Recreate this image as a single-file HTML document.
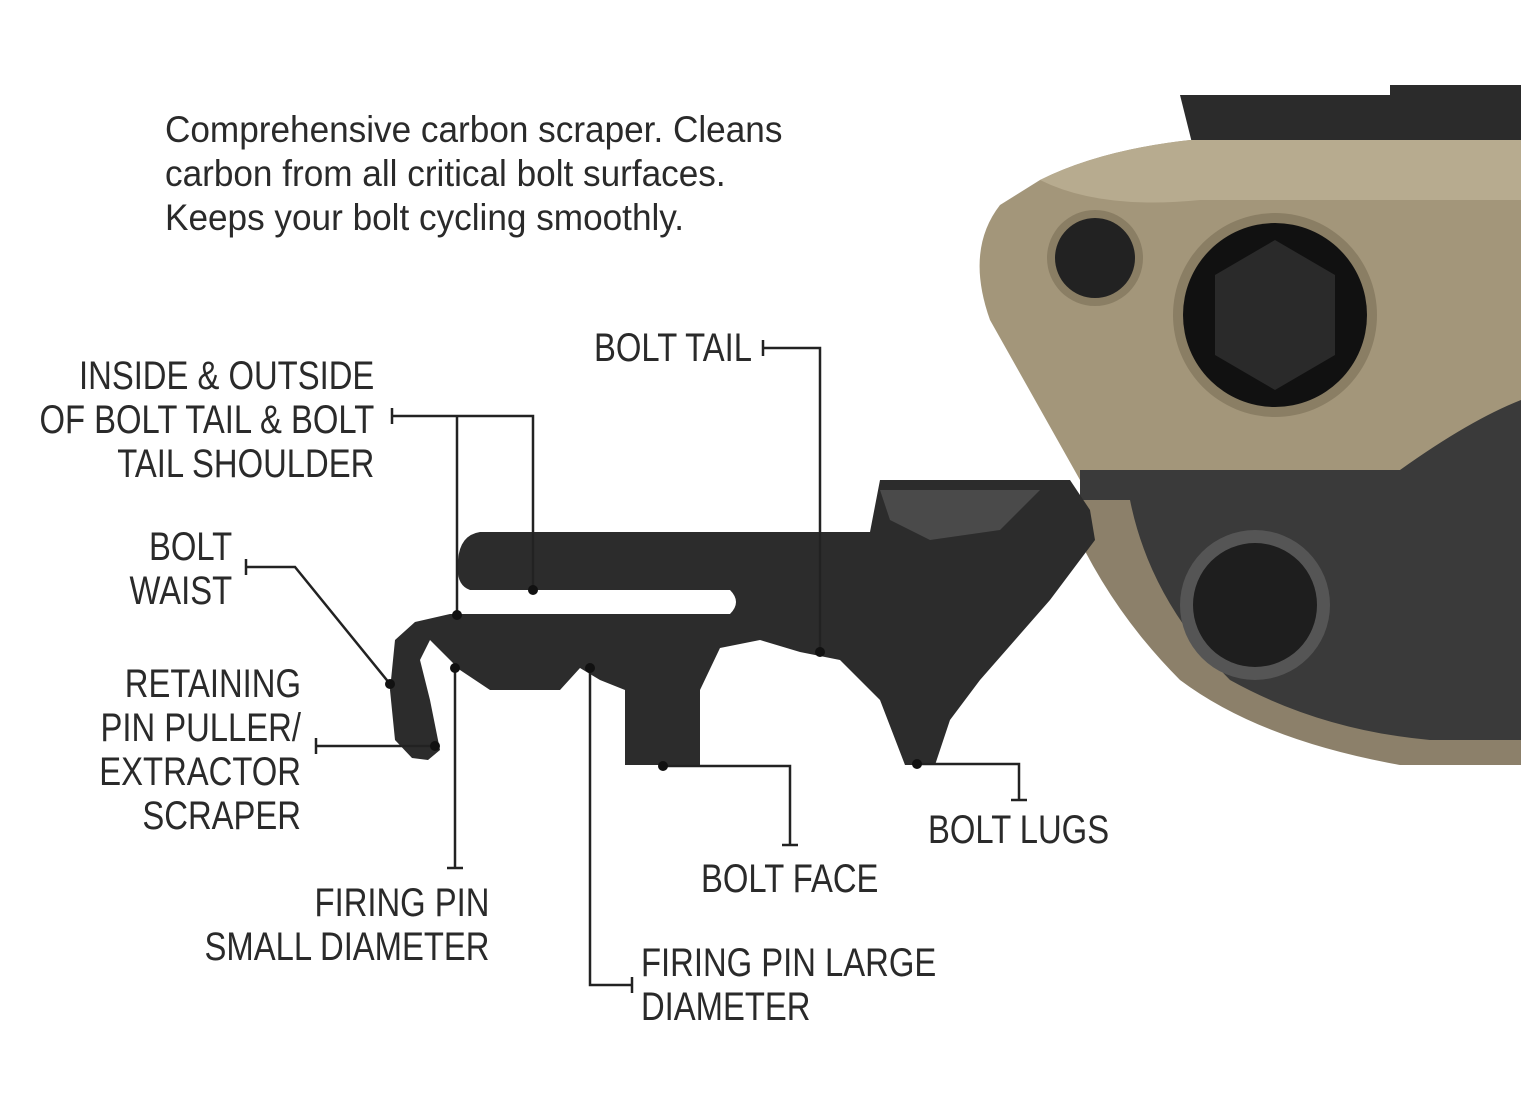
<!DOCTYPE html>
<html><head><meta charset="utf-8"><style>
html,body{margin:0;padding:0;background:#fff;}
#c{position:relative;width:1521px;height:1108px;overflow:hidden;background:#fff;}
.t{position:absolute;font-family:"Liberation Sans",sans-serif;color:#2a2a2a;white-space:nowrap;}
.intro{font-size:37px;line-height:44px;left:165px;top:108px;transform:scaleX(0.95);transform-origin:left top;}
.l{font-size:40px;line-height:44px;transform:scaleX(0.82);transform-origin:left top;}
.r{text-align:right;transform-origin:right top;}
</style></head><body><div id="c">
<svg width="1521" height="1108" style="position:absolute;left:0;top:0">
 <path d="M1180 95 L1390 95 L1390 85 L1521 85 L1521 175 L1200 175 Z" fill="#2b2b2b"/>
 <path d="M1040 180 Q1100 150 1190 140 L1521 140 L1521 470 L1080 480 L990 320 Q965 250 1000 205 Z" fill="#a3967a"/>
 <path d="M1040 180 Q1100 150 1190 140 L1521 140 L1521 200 L1200 200 Q1100 210 1040 180Z" fill="#b7ab8f"/>
 <path d="M1080 470 L1400 470 Q1470 420 1521 400 L1521 750 L1420 745 Q1300 730 1220 690 L1160 640 Q1100 560 1080 520 Z" fill="#3a3a3a"/>
 <path d="M1070 500 L1130 500 Q1150 600 1230 680 Q1320 730 1430 740 L1521 740 L1521 765 L1400 765 Q1260 740 1180 680 Q1110 610 1070 520Z" fill="#8c806a"/>
 <path d="M880 480 L1070 480 L1090 510 L1095 540 L1050 600 L980 680 L950 720 L935 765 L905 765 L880 700 L840 660 L800 652 L760 640 L720 648 L700 690 L700 765 L625 765 L625 690 L600 680 L580 668 L560 690 L490 690 L460 670 L430 640 L420 660 L430 700 L440 750 L428 760 L412 758 L395 740 L390 690 L395 640 L415 622 L450 614 L730 614 Q742 602 730 590 L470 590 Q455 585 458 560 Q460 535 480 532 L870 532 Z" fill="#2c2c2c"/>
 <path d="M880 490 L1040 490 L1000 530 L930 540 L890 520Z" fill="#4a4a4a"/>
 <circle cx="1095" cy="258" r="48" fill="#8a7e64"/>
 <circle cx="1095" cy="258" r="40" fill="#222"/>
 <circle cx="1275" cy="315" r="102" fill="#8a7e64"/>
 <circle cx="1275" cy="315" r="92" fill="#111"/>
 <polygon points="1275,240 1335,275 1335,355 1275,390 1215,355 1215,275" fill="#2a2a2a"/>
 <circle cx="1255" cy="605" r="75" fill="#555"/>
 <circle cx="1255" cy="605" r="62" fill="#1e1e1e"/>
 <g stroke="#222" stroke-width="2.5" fill="none">
  <path d="M763 340V356M763 348H820V652"/>
  <path d="M392 408V424M392 416H533V590M457 416V615"/>
  <path d="M246 559V575M246 567H295L390 684"/>
  <path d="M316 738V754M316 746H435"/>
  <path d="M455 668V868M447 868H463"/>
  <path d="M590 668V985H632M632 977V993"/>
  <path d="M663 766H790V845M782 845H798"/>
  <path d="M917 764H1019V800M1011 800H1027"/>
 </g>
 <g fill="#111">
  <circle cx="820" cy="652" r="5"/><circle cx="533" cy="590" r="5"/><circle cx="457" cy="615" r="5"/>
  <circle cx="390" cy="684" r="5"/><circle cx="435" cy="746" r="5"/><circle cx="455" cy="668" r="5"/>
  <circle cx="590" cy="668" r="5"/><circle cx="663" cy="766" r="5"/><circle cx="917" cy="764" r="5"/>
 </g>
</svg>
<div class="t intro">Comprehensive carbon scraper. Cleans<br>carbon from all critical bolt surfaces.<br>Keeps your bolt cycling smoothly.</div>
<div class="t l" style="left:594px;top:326px">BOLT TAIL</div>
<div class="t l r" style="right:1147px;top:354px">INSIDE &amp; OUTSIDE<br>OF BOLT TAIL &amp; BOLT<br>TAIL SHOULDER</div>
<div class="t l r" style="right:1289px;top:525px">BOLT<br>WAIST</div>
<div class="t l r" style="right:1220px;top:662px">RETAINING<br>PIN PULLER/<br>EXTRACTOR<br>SCRAPER</div>
<div class="t l r" style="right:1032px;top:881px">FIRING PIN<br>SMALL DIAMETER</div>
<div class="t l" style="left:641px;top:941px">FIRING PIN LARGE<br>DIAMETER</div>
<div class="t l" style="left:701px;top:857px">BOLT FACE</div>
<div class="t l" style="left:928px;top:808px">BOLT LUGS</div>
</div></body></html>
